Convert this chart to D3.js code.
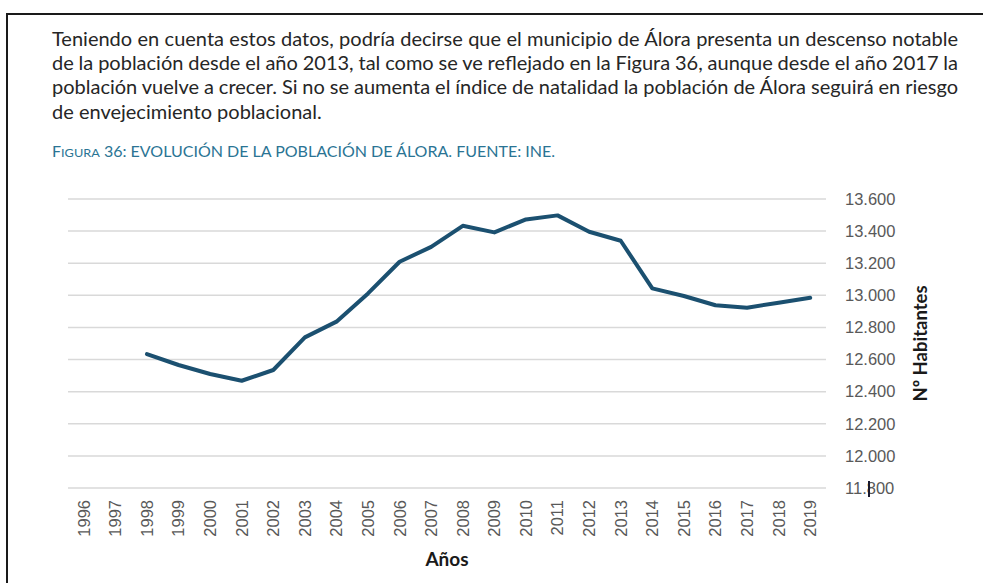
<!DOCTYPE html>
<html>
<head>
<meta charset="utf-8">
<script src="https://cdn.jsdelivr.net/npm/d3@7"></script>
<style>
  body { margin: 0; background: #fff; }
  svg { display: block; }
  .para { font-family: Lato, "Open Sans", sans-serif; fill: #262626; }
  .caption { font-family: Lato, "Open Sans", sans-serif; fill: #2a7494; }
  .axis text { font-family: "Liberation Sans", Arial, sans-serif; fill: #595959; font-size: 16.5px; }
  .title { font-family: Lato, "Open Sans", sans-serif; font-weight: bold; fill: #1a1a1a; }
</style>
</head>
<body>
<svg width="983" height="583"></svg>
<script>
// text of the page
const paragraphLines = [
  'Teniendo en cuenta estos datos, podría decirse que el municipio de Álora presenta un descenso notable',
  'de la población desde el año 2013, tal como se ve reflejado en la Figura 36, aunque desde el año 2017 la',
  'población vuelve a crecer. Si no se aumenta el índice de natalidad la población de Álora seguirá en riesgo',
  'de envejecimiento poblacional.'
];
const captionRest = ' 36: EVOLUCIÓN DE LA POBLACIÓN DE ÁLORA. FUENTE: INE.';

// chart data
const years = ['1996', '1997', '1998', '1999', '2000', '2001', '2002', '2003', '2004', '2005', '2006', '2007',
  '2008', '2009', '2010', '2011', '2012', '2013', '2014', '2015', '2016', '2017', '2018', '2019'];
const dataYears = ['1998', '1999', '2000', '2001', '2002', '2003', '2004', '2005', '2006', '2007', '2008',
  '2009', '2010', '2011', '2012', '2013', '2014', '2015', '2016', '2017', '2018', '2019'];
const population = [12634, 12566, 12510, 12468, 12535, 12738, 12836, 13012, 13209, 13302, 13433,
  13392, 13473, 13498, 13396, 13340, 13043, 12996, 12938, 12923, 12954, 12985];
const yTicks = [11800, 12000, 12200, 12400, 12600, 12800, 13000, 13200, 13400, 13600];

var svg = d3.select('svg');

// frame around the page crop
svg.append('line').attr('x1', 7).attr('x2', 983).attr('y1', 14).attr('y2', 14)
  .attr('stroke', '#1a1a1a').attr('stroke-width', 2);
svg.append('line').attr('x1', 7).attr('x2', 7).attr('y1', 13).attr('y2', 583)
  .attr('stroke', '#1a1a1a').attr('stroke-width', 2);

// paragraph, justified like in the document
var textLeft = 52, textRight = 958, lastLineWidth = 270;
var para = svg.append('g').attr('class', 'para');
var probe = para.append('text').style('font-size', '20px').text(paragraphLines[3]);
var fontSize = 20 * lastLineWidth / probe.node().getComputedTextLength();
probe.remove();

paragraphLines.forEach(function (line, i) {
  var t = para.append('text')
    .attr('x', textLeft)
    .attr('y', 45.5 + i * 24.4)
    .style('font-size', fontSize + 'px')
    .text(line);
  if (i < paragraphLines.length - 1) {
    var spaces = line.split(' ').length - 1;
    var extra = (textRight - textLeft - t.node().getComputedTextLength()) / spaces;
    t.style('word-spacing', extra + 'px');
  }
});

// figure caption with small caps "Figura"
var cap = svg.append('text').attr('class', 'caption')
  .attr('x', textLeft).attr('y', 157).style('font-size', '14.5px');
cap.append('tspan').text('F');
cap.append('tspan').style('font-size', '11.5px').text('IGURA');
cap.append('tspan').text(captionRest);
cap.attr('textLength', 503).attr('lengthAdjust', 'spacingAndGlyphs');

// scales
var x = d3.scaleBand().domain(years).range([68, 826]);
var y = d3.scaleLinear().domain([11800, 13600]).range([488, 199]);
var es = d3.formatLocale({ decimal: ',', thousands: '.', grouping: [3], currency: ['', '€'] });

// gridlines
svg.append('g').selectAll('line')
  .data(yTicks)
  .enter()
  .append('line')
  .attr('x1', x.range()[0])
  .attr('x2', x.range()[1])
  .attr('y1', function (d) { return y(d); })
  .attr('y2', function (d) { return y(d); })
  .attr('stroke', '#d9d9d9')
  .attr('stroke-width', 1.5);

// y axis on the right
var yAxis = svg.append('g').attr('class', 'axis')
  .attr('transform', 'translate(845,0)')
  .call(d3.axisRight(y).tickValues(yTicks).tickSize(0).tickPadding(0).tickFormat(es.format(',')));
yAxis.select('.domain').remove();

// x axis, rotated labels
var xAxis = svg.append('g').attr('class', 'axis')
  .attr('transform', 'translate(0,' + y.range()[0] + ')')
  .call(d3.axisBottom(x).tickSize(0));
xAxis.select('.domain').remove();
xAxis.selectAll('text')
  .attr('transform', 'rotate(-90)')
  .attr('x', -12)
  .attr('y', 0)
  .attr('dy', '0.36em')
  .style('text-anchor', 'end');

// the population line
var line = d3.line()
  .x(function (d, i) { return x(dataYears[i]) + x.bandwidth() / 2; })
  .y(function (d) { return y(d); });

svg.append('path')
  .datum(population)
  .attr('d', line)
  .attr('fill', 'none')
  .attr('stroke', '#1b5070')
  .attr('stroke-width', 4)
  .attr('stroke-linejoin', 'round')
  .attr('stroke-linecap', 'round');

// axis titles
svg.append('text').attr('class', 'title')
  .attr('x', (x.range()[0] + x.range()[1]) / 2)
  .attr('y', 566)
  .attr('text-anchor', 'middle')
  .style('font-size', '19px')
  .text('Años');

svg.append('text').attr('class', 'title')
  .attr('transform', 'translate(927,' + (y.range()[0] + y.range()[1]) / 2 + ') rotate(-90)')
  .attr('text-anchor', 'middle')
  .style('font-size', '18.5px')
  .text('Nº Habitantes');

// text cursor left over in the screenshot
svg.append('line')
  .attr('x1', 869).attr('x2', 869)
  .attr('y1', y(11800) - 7).attr('y2', y(11800) + 9)
  .attr('stroke', '#1a1a2e').attr('stroke-width', 2);
</script>
</body>
</html>
